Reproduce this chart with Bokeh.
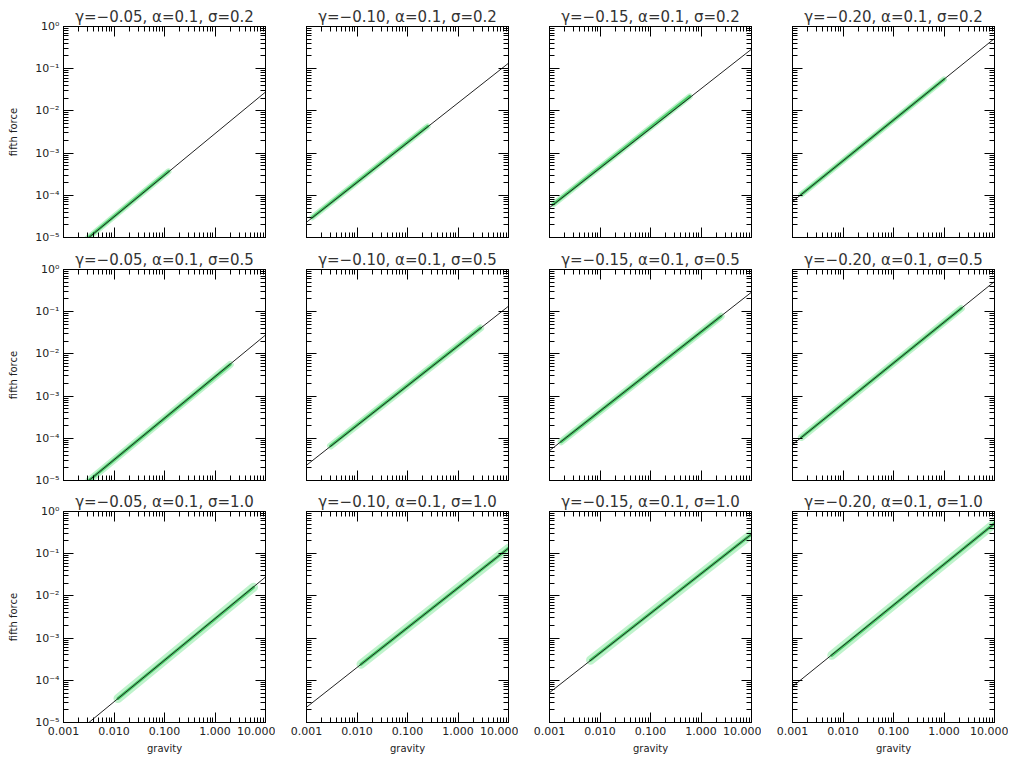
from bokeh.plotting import figure
from bokeh.layouts import gridplot
from bokeh.models import LogAxis, CustomJSTickFormatter, Range1d, FixedTicker
from bokeh.embed import file_html
from bokeh.resources import INLINE

# ---------------- data ----------------
gamma_labels = ["\u22120.05", "\u22120.10", "\u22120.15", "\u22120.20"]
alpha_label = "0.1"
sigma_labels = ["0.2", "0.5", "1.0"]

x_ticks = [0.001, 0.01, 0.1, 1.0, 10.0]
y_ticks = [1e-5, 1e-4, 1e-3, 1e-2, 1e-1, 1.0]

# black reference line (same for every row of a column)
line_gravity = [0.001, 10.0]
line_force_c1 = [3.2e-6, 2.8e-2]
line_force_c2 = [2.3e-5, 1.35e-1]
line_force_c3 = [5.1e-5, 2.9e-1]
line_force_c4 = [7.1e-5, 5.2e-1]
line_force = [line_force_c1, line_force_c2, line_force_c3, line_force_c4]

# green particle band: start/end (gravity, force) per panel [row][col]
band_g0 = [[0.0025, 0.0013, 0.0012, 0.0015],
           [0.0032, 0.0030, 0.0017, 0.0015],
           [0.012, 0.012, 0.0065, 0.006]]
band_f0 = [[8.0e-6, 3.0e-5, 6.2e-5, 1.05e-4],
           [1.0e-5, 6.6e-5, 8.3e-5, 1.05e-4],
           [3.7e-5, 2.4e-4, 3.0e-4, 3.9e-4]]
band_g1 = [[0.12, 0.25, 0.6, 1.0],
           [2.0, 2.8, 2.5, 2.2],
           [5.8, 10.0, 10.0, 10.0]]
band_f1 = [[3.7e-4, 4.3e-3, 2.2e-2, 5.6e-2],
           [5.6e-3, 4.1e-2, 7.8e-2, 1.2e-1],
           [1.6e-2, 1.35e-1, 2.9e-1, 5.2e-1]]

# ---------------- layout ----------------
FW, FH = 202, 211
left_b = [63, 31, 31, 31]
right_b = [10, 10, 10, 14]
top_b = [26, 19, 21]
bot_b = [11, 10, 41]

FONT = "DejaVu Sans"

x_minor = [m * d for d in [0.001, 0.01, 0.1, 1.0] for m in range(2, 10)]
y_minor = [m * d for d in [1e-5, 1e-4, 1e-3, 1e-2, 1e-1] for m in range(2, 10)]

X_FMT_CODE = "return tick.toFixed(3);"
Y_FMT_CODE = """
const sup = {'-':'\u207b','0':'\u2070','1':'\u00b9','2':'\u00b2','3':'\u00b3','4':'\u2074','5':'\u2075','6':'\u2076','7':'\u2077','8':'\u2078','9':'\u2079'};
const e = String(Math.round(Math.log10(tick)));
let s = '';
for (const c of e) { s += sup[c]; }
return '10' + s;
"""
BLANK_CODE = "return '';"


def style_axis(ax, ticks, minor, show_labels, code, label_standoff=5):
    ax.ticker = FixedTicker(ticks=ticks, minor_ticks=minor)
    ax.axis_line_color = "black"
    ax.axis_line_width = 1
    ax.major_tick_line_color = "black"
    ax.minor_tick_line_color = "black"
    ax.major_tick_in = 10
    ax.major_tick_out = 0
    ax.minor_tick_in = 5
    ax.minor_tick_out = 0
    if show_labels:
        ax.formatter = CustomJSTickFormatter(code=code)
        ax.major_label_text_font = FONT
        ax.major_label_text_font_size = "11px"
        ax.major_label_text_color = "#222222"
        ax.major_label_standoff = 4
    else:
        ax.formatter = CustomJSTickFormatter(code=BLANK_CODE)
        ax.major_label_text_font_size = "1px"
        ax.major_label_standoff = 0
    ax.axis_label_text_font = FONT
    ax.axis_label_text_font_size = "10px"
    ax.axis_label_text_font_style = "normal"
    ax.axis_label_text_color = "#222222"
    ax.axis_label_standoff = label_standoff


rows = []
for r in range(3):
    row = []
    for c in range(4):
        p = figure(
            x_axis_type="log", y_axis_type="log",
            x_range=Range1d(0.001, 10.0), y_range=Range1d(1e-5, 1.0),
            frame_width=FW, frame_height=FH,
            min_border_left=left_b[c], min_border_right=right_b[c],
            min_border_top=top_b[r], min_border_bottom=bot_b[r],
            output_backend="svg", toolbar_location=None,
            title=f"\u03b3={gamma_labels[c]}, \u03b1={alpha_label}, \u03c3={sigma_labels[r]}",
        )
        p.title.align = "center"
        p.title.text_font = FONT
        p.title.text_font_size = "15px"
        p.title.text_font_style = "normal"
        p.title.text_color = "#333333"
        p.title.standoff = 1
        p.xgrid.visible = False
        p.ygrid.visible = False
        p.outline_line_color = "black"
        p.background_fill_color = "white"
        p.border_fill_color = "white"

        style_axis(p.xaxis[0], x_ticks, x_minor, r == 2, X_FMT_CODE, 5)
        style_axis(p.yaxis[0], y_ticks, y_minor, c == 0, Y_FMT_CODE, 13)
        if r == 2:
            p.xaxis[0].axis_label = "gravity"
        if c == 0:
            p.yaxis[0].axis_label = "fifth force"

        top_ax = LogAxis()
        style_axis(top_ax, x_ticks, x_minor, False, X_FMT_CODE)
        p.add_layout(top_ax, "above")
        right_ax = LogAxis()
        style_axis(right_ax, y_ticks, y_minor, False, Y_FMT_CODE)
        p.add_layout(right_ax, "right")

        bx = [band_g0[r][c], band_g1[r][c]]
        by = [band_f0[r][c], band_f1[r][c]]
        wide = [6, 7, 9][r]
        p.line(bx, by, line_width=wide, color="#7fe89a", alpha=0.5, line_cap="round")
        p.line(bx, by, line_width=3, color="#2cc24f", alpha=0.8, line_cap="round")
        p.line(line_gravity, line_force[c], line_width=1, color="#222222")
        row.append(p)
    rows.append(row)

grid = gridplot(rows, toolbar_location=None)

open("out.html", "w").write(file_html(grid, INLINE))
